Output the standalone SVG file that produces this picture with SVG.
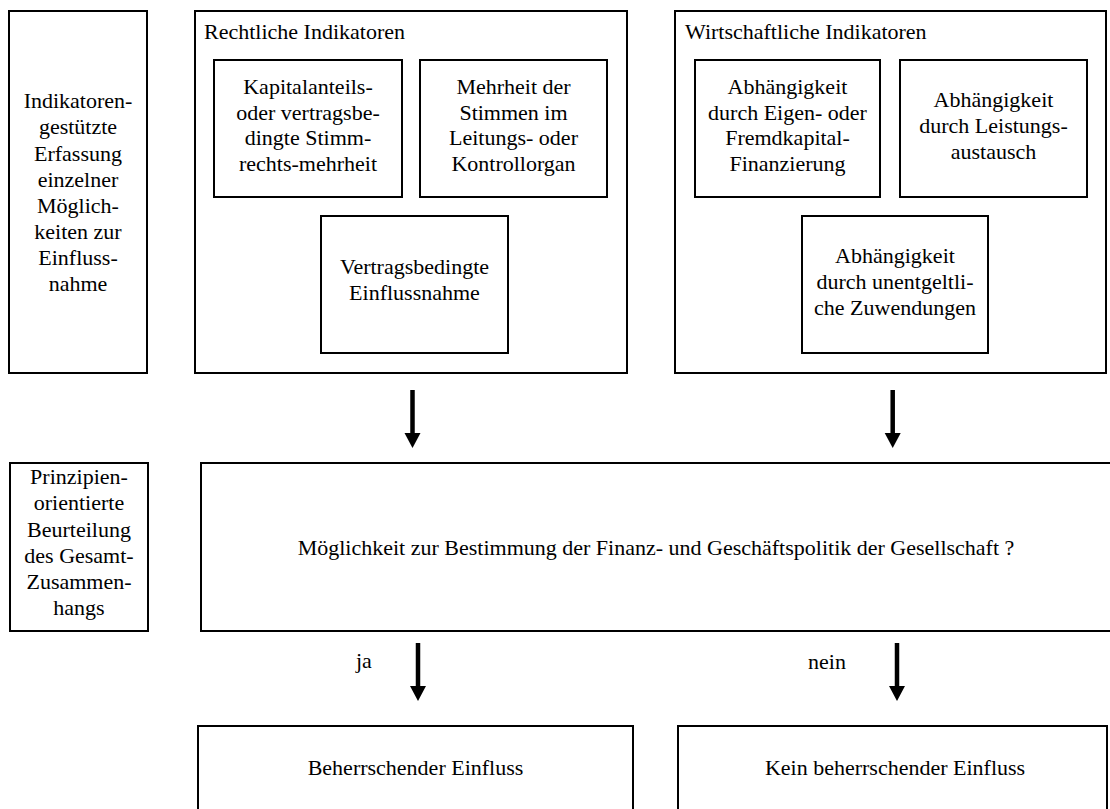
<svg xmlns="http://www.w3.org/2000/svg" width="1110" height="809" viewBox="0 0 1110 809">
<style>
.box{fill:#fff;stroke:#000;stroke-width:2}
.shaft{stroke:#000;stroke-width:4.5}
.head{fill:#000}
</style>
<rect width="1110" height="809" fill="#fff"/>
<g id="n-indikatoren"><rect class="box" x="9" y="11" width="138" height="362"/></g>
<g id="n-rechtlich"><rect class="box" x="195" y="11" width="432" height="362"/></g>
<g id="n-kapital"><rect class="box" x="214" y="60" width="188" height="137"/></g>
<g id="n-mehrheit"><rect class="box" x="420" y="60" width="187" height="137"/></g>
<g id="n-vertrag"><rect class="box" x="321" y="216" width="187" height="137"/></g>
<g id="n-wirtschaft"><rect class="box" x="675" y="11" width="431" height="362"/></g>
<g id="n-kapitalfin"><rect class="box" x="695" y="60" width="185" height="137"/></g>
<g id="n-leistung"><rect class="box" x="900" y="60" width="187" height="137"/></g>
<g id="n-zuwendung"><rect class="box" x="802" y="216" width="186" height="137"/></g>
<g id="n-prinzip"><rect class="box" x="10" y="463" width="138" height="168"/></g>
<g id="n-frage"><rect class="box" x="201" y="463" width="920" height="168"/></g>
<g id="n-ja"><rect class="box" x="198" y="726" width="435" height="100"/></g>
<g id="n-nein"><rect class="box" x="678" y="726" width="429" height="100"/></g>
<g id="labels" font-family="Liberation Serif" font-size="22" fill="#000" text-anchor="middle">
<text x="78" y="108">Indikatoren-</text>
<text x="78" y="134">gestützte</text>
<text x="78" y="160.5">Erfassung</text>
<text x="78" y="187">einzelner</text>
<text x="78" y="213">Möglich-</text>
<text x="78" y="239">keiten zur</text>
<text x="78" y="265">Einfluss-</text>
<text x="78" y="291">nahme</text>
<text x="204" y="39" text-anchor="start">Rechtliche Indikatoren</text>
<text x="308" y="94">Kapitalanteils-</text>
<text x="308" y="120">oder vertragsbe-</text>
<text x="308" y="145">dingte Stimm-</text>
<text x="308" y="171">rechts-mehrheit</text>
<text x="513.5" y="94">Mehrheit der</text>
<text x="513.5" y="120">Stimmen im</text>
<text x="513.5" y="145">Leitungs- oder</text>
<text x="513.5" y="171">Kontrollorgan</text>
<text x="414.5" y="274">Vertragsbedingte</text>
<text x="414.5" y="300">Einflussnahme</text>
<text x="685" y="39" text-anchor="start">Wirtschaftliche Indikatoren</text>
<text x="787.5" y="94">Abhängigkeit</text>
<text x="787.5" y="120">durch Eigen- oder</text>
<text x="787.5" y="145">Fremdkapital-</text>
<text x="787.5" y="171">Finanzierung</text>
<text x="993.5" y="107">Abhängigkeit</text>
<text x="993.5" y="133">durch Leistungs-</text>
<text x="993.5" y="159">austausch</text>
<text x="895" y="263">Abhängigkeit</text>
<text x="895" y="289">durch unentgeltli-</text>
<text x="895" y="315">che Zuwendungen</text>
<text x="79" y="484">Prinzipien-</text>
<text x="79" y="510">orientierte</text>
<text x="79" y="536.5">Beurteilung</text>
<text x="79" y="563">des Gesamt-</text>
<text x="79" y="589">Zusammen-</text>
<text x="79" y="615">hangs</text>
<text x="656" y="555">Möglichkeit zur Bestimmung der Finanz- und Geschäftspolitik der Gesellschaft ?</text>
<text x="415.5" y="775">Beherrschender Einfluss</text>
<text x="895" y="775">Kein beherrschender Einfluss</text>
</g>
<g id="connectors">
<line class="shaft" x1="412.5" y1="390" x2="412.5" y2="434"/>
<line class="shaft" x1="892.7" y1="390" x2="892.7" y2="434"/>
<line class="shaft" x1="418" y1="643" x2="418" y2="687"/>
<line class="shaft" x1="897" y1="643" x2="897" y2="687"/>
<polygon class="head" points="404.5,433 420.5,433 412.5,448"/>
<polygon class="head" points="884.7,433 900.7,433 892.7,448"/>
<polygon class="head" points="410,686 426,686 418,701"/>
<polygon class="head" points="889,686 905,686 897,701"/>
<text x="356" y="668" font-family="Liberation Serif" font-size="22">ja</text>
<text x="808" y="669" font-family="Liberation Serif" font-size="22">nein</text>
</g>
</svg>
